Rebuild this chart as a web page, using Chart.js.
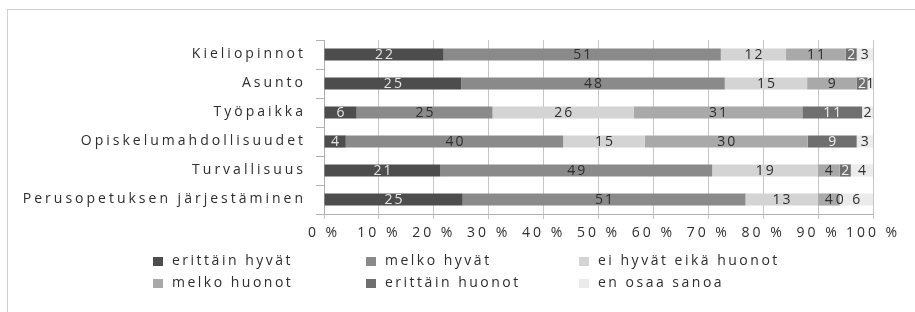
<!DOCTYPE html>
<html>
<head>
<meta charset="utf-8">
<script src="https://cdn.jsdelivr.net/npm/chart.js@4"></script>
<style>
  html, body { margin: 0; padding: 0; background: #fff; overflow: hidden; }
  #wrap { position: relative; width: 915px; height: 312px; }
  #frame { position: absolute; left: 7px; top: 9px; width: 1000px; height: 1000px; border: 1px solid #d0d0d0; }
  #chart { position: absolute; left: 0; top: 0; }
  #legend { position: absolute; left: 0; top: 0; font-family: "Open Sans", sans-serif; font-size: 14px; letter-spacing: 2.5px; color: #2e2e2e; }
  .item { position: absolute; white-space: nowrap; line-height: 18px; }
  .box { display: inline-block; width: 10px; height: 9px; margin-right: 9px; vertical-align: -1px; }
</style>
</head>
<body>
<div id="wrap">
  <div id="frame"></div>
  <canvas id="chart" width="915" height="312"></canvas>
  <div id="legend"></div>
</div>
<script>
// ========================================
// DATA
// ========================================
const categories = ['Kieliopinnot', 'Asunto', 'Työpaikka', 'Opiskelumahdollisuudet', 'Turvallisuus', 'Perusopetuksen järjestäminen'];
const seriesNames = ['erittäin hyvät', 'melko hyvät', 'ei hyvät eikä huonot', 'melko huonot', 'erittäin huonot', 'en osaa sanoa'];

const erittainHyvat = [22, 25, 6, 4, 21, 25];
const melkoHyvat    = [51, 48, 25, 40, 49, 51];
const eiHyvatEika   = [12, 15, 26, 15, 19, 13];
const melkoHuonot   = [11, 9, 31, 30, 4, 4];
const erittainHuonot = [2, 2, 11, 9, 2, 0];
const enOsaaSanoa   = [3, 1, 2, 3, 4, 6];

const xTicks = [0, 10, 20, 30, 40, 50, 60, 70, 80, 90, 100];

const seriesValues = [erittainHyvat, melkoHyvat, eiHyvatEika, melkoHuonot, erittainHuonot, enOsaaSanoa];
const colors = ['#4d4d4d', '#8a8a8a', '#d4d4d4', '#a9a9a9', '#6f6f6f', '#ebebeb'];
const labelColors = ['#e6e6e6', '#2e2e2e', '#2e2e2e', '#2e2e2e', '#f0f0f0', '#2e2e2e'];

// 100 % stacked: each row is scaled to its own total
const totals = categories.map((c, i) => seriesValues.reduce((s, arr) => s + arr[i], 0));

const FONT = '"Open Sans", sans-serif';
const TEXT = '#2e2e2e';

// ========================================
// PLUGINS
// ========================================
const letterSpacing = {
    id: 'letterSpacing',
    beforeLayout(chart) { chart.ctx.letterSpacing = '3px'; },
    beforeDraw(chart) { chart.ctx.letterSpacing = '3px'; }
};

const barLabels = {
    id: 'barLabels',
    afterDatasetsDraw(chart) {
        const ctx = chart.ctx;
        ctx.save();
        ctx.letterSpacing = '2px';
        ctx.font = '14px ' + FONT;
        ctx.textAlign = 'center';
        ctx.textBaseline = 'middle';
        chart.data.datasets.forEach((ds, di) => {
            const meta = chart.getDatasetMeta(di);
            meta.data.forEach((bar, i) => {
                const cx = (bar.x + bar.base) / 2;
                // zero-width segments sit on a light neighbour, keep them dark
                ctx.fillStyle = ds.raw[i] === 0 ? TEXT : labelColors[di];
                ctx.fillText(String(ds.raw[i]), cx + 1, bar.y + 1);
            });
        });
        ctx.restore();
    }
};

// ========================================
// CHART
// ========================================
const ctx = document.getElementById('chart').getContext('2d');
new Chart(ctx, {
    type: 'bar',
    data: {
        labels: categories,
        datasets: seriesNames.map((name, di) => ({
            label: name,
            raw: seriesValues[di],
            data: seriesValues[di].map((v, i) => v / totals[i] * 100),
            backgroundColor: colors[di],
            borderWidth: 0,
            barPercentage: 0.42,
            categoryPercentage: 1
        }))
    },
    options: {
        indexAxis: 'y',
        responsive: false,
        animation: false,
        layout: { padding: { top: 40, right: 42, left: 0, bottom: 0 } },
        plugins: {
            legend: { display: false },
            tooltip: { enabled: false }
        },
        scales: {
            x: {
                stacked: true,
                min: 0,
                max: 100,
                afterBuildTicks: function(scale) {
                    scale.ticks = xTicks.map(v => ({ value: v }));
                },
                afterFit: function(scale) { scale.height = 98; },
                grid: { color: '#c6c6c6', tickLength: 5, lineWidth: 1 },
                border: { color: '#b0b0b0' },
                ticks: {
                    padding: 6,
                    autoSkip: false,
                    color: TEXT,
                    font: { family: FONT, size: 14 },
                    maxRotation: 0,
                    callback: function(value) { return value + ' %'; }
                }
            },
            y: {
                stacked: true,
                afterFit: function(scale) { scale.width = 324; },
                grid: { drawOnChartArea: false, tickLength: 8, color: '#b0b0b0' },
                border: { color: '#b0b0b0' },
                ticks: {
                    padding: 10,
                    color: TEXT,
                    font: { family: FONT, size: 14 }
                }
            }
        }
    },
    plugins: [letterSpacing, barLabels]
});

// ========================================
// LEGEND (fixed columns like the original)
// ========================================
const legendCols = [153, 366, 579];
const legendRows = [251, 273];
const legend = document.getElementById('legend');
seriesNames.forEach((name, i) => {
    const el = document.createElement('div');
    el.className = 'item';
    el.style.left = legendCols[i % 3] + 'px';
    el.style.top = legendRows[Math.floor(i / 3)] + 'px';
    el.innerHTML = '<span class="box" style="background:' + colors[i] + '"></span>' + name;
    legend.appendChild(el);
});
</script>
</body>
</html>
